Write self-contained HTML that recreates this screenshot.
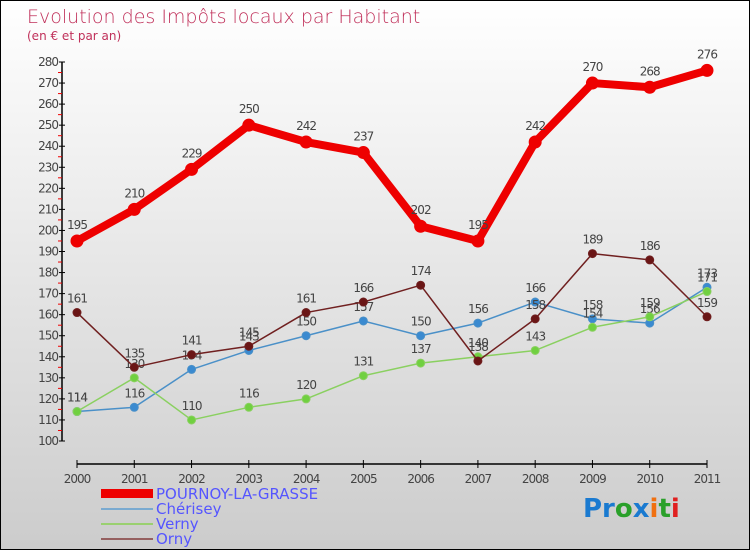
<!DOCTYPE html>
<html><head><meta charset="utf-8"><style>
body{margin:0}
#c{position:relative;width:750px;height:550px;box-sizing:border-box;border:1px solid #000;background:linear-gradient(#fff,#ccc);font-family:"DejaVu Sans","Liberation Sans",sans-serif;overflow:hidden}
</style></head><body>
<div id="c">
<svg width="750" height="550" style="position:absolute;left:0;top:0" id="svg">
<text x="26" y="22" font-size="19" fill="#c0305a" font-family="DejaVu Sans, sans-serif" font-weight="200">Evolution des Impôts locaux par Habitant</text>
<text x="26" y="39" font-size="12" fill="#c0305a">(en € et par an)</text>
<g id="axes"></g><g id="series"></g>
<g>
<rect x="100" y="488" width="52" height="9" fill="#e00"/>
<text x="155" y="498" font-size="15" fill="#55f">POURNOY-LA-GRASSE</text>
<rect x="100" y="507" width="52" height="2" fill="#7aaad0"/>
<text x="155" y="513" font-size="15" fill="#55f">Chérisey</text>
<rect x="100" y="522" width="52" height="2" fill="#9ad070"/>
<text x="155" y="528" font-size="15" fill="#55f">Verny</text>
<rect x="100" y="537" width="52" height="2" fill="#956060"/>
<text x="155" y="543" font-size="15" fill="#55f">Orny</text>
</g>
<text x="582" y="516" font-size="26" font-weight="bold"><tspan fill="#1a7ad0">Pr</tspan><tspan fill="#2aa02a">o</tspan><tspan fill="#1a7ad0">x</tspan><tspan fill="#f07010">i</tspan><tspan fill="#2aa02a">t</tspan><tspan fill="#e02020">i</tspan></text>
</svg>
</div>
<script>
const years=[2000,2001,2002,2003,2004,2005,2006,2007,2008,2009,2010,2011];
const yTicks=[100,110,120,130,140,150,160,170,180,190,200,210,220,230,240,250,260,270,280];
const pournoy=[195,210,229,250,242,237,202,195,242,270,268,276];
const cherisey=[114,116,134,143,150,157,150,156,166,158,156,173];
const verny=[114,130,110,116,120,131,137,140,143,154,159,171];
const orny=[161,135,141,145,161,166,174,138,158,189,186,159];
const NS="http://www.w3.org/2000/svg";
const xs=i=>76+i*(630/11);
const ys=v=>440-(v-100)*(379/180);
function mk(t,a,p){const e=document.createElementNS(NS,t);for(const k in a)e.setAttribute(k,a[k]);p.appendChild(e);return e;}
const ax=document.getElementById('axes');
let yl=mk('line',{x1:61,y1:61,x2:61,y2:440,stroke:'#000','stroke-width':1.5},ax);


yTicks.forEach((v,i)=>{
 mk('line',{x1:58,x2:64,y1:ys(v),y2:ys(v),stroke:'#000'},ax);
 if(i<yTicks.length-1)mk('line',{x1:57,x2:61,y1:ys(v+5),y2:ys(v+5),stroke:'#e00'},ax);
 const t=mk('text',{x:57,y:ys(v)+4,'font-size':12,'text-anchor':'end',fill:'#444','letter-spacing':'-1'},ax);
 t.textContent=v;
 
 
});
let xl=mk('line',{x1:76,y1:463,x2:706,y2:463,stroke:'#000','stroke-width':1.5},ax);


years.forEach((y,i)=>{
 mk('line',{x1:xs(i),x2:xs(i),y1:459,y2:467,stroke:'#000'},ax);
 const t=mk('text',{x:xs(i),y:482,'font-size':12,'text-anchor':'middle',fill:'#444','letter-spacing':'-1'},ax);
 t.textContent=y;
 
 
});
const sg=document.getElementById('series');
function series(name,data,color,dot,w,r){
 const g=mk('g',{},sg);
 
 
 const pl=mk('polyline',{points:data.map((v,i)=>xs(i)+','+ys(v)).join(' '),fill:'none',stroke:color,'stroke-width':w,'stroke-linejoin':'round'},g);
 
 
 data.forEach((v,i)=>{
  const c=mk('circle',{cx:xs(i),cy:ys(v),r:r,fill:dot,stroke:color,'stroke-width':1},g);
  
  
  const t=mk('text',{x:xs(i),y:ys(v)-(r+6),'font-size':12,'text-anchor':'middle',fill:'#444','letter-spacing':'-1'},g);
  t.textContent=v;
  
  
 });
}
series('cherisey',cherisey,'#4a90c8','#3a8ad0',1.5,4);
series('verny',verny,'#8ad060','#70d040',1.5,4);
series('orny',orny,'#702020','#6a1515',1.5,4);
series('pournoy',pournoy,'#e00','#e00',8,6);
</script>
</body></html>
